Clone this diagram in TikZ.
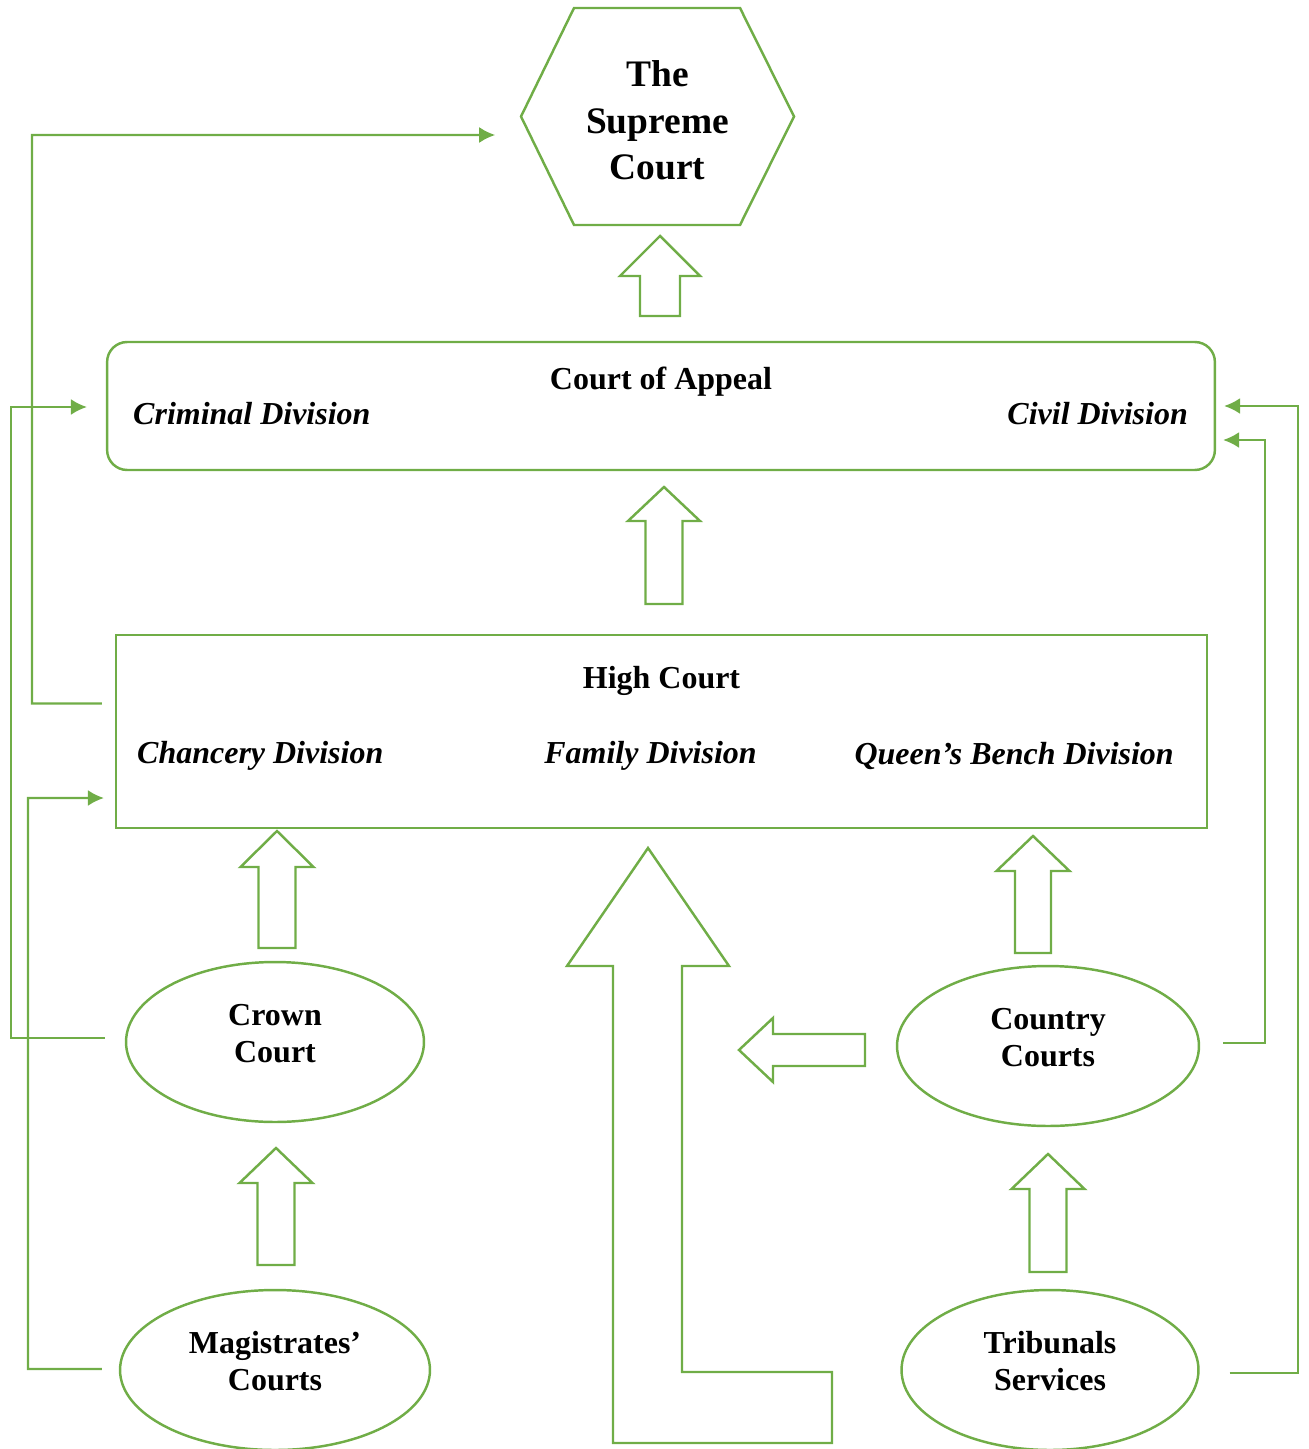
\documentclass[tikz,border=0pt]{standalone}
\usepackage{fontspec}
\setmainfont{Liberation Serif}
\usetikzlibrary{shapes.geometric, arrows.meta, calc, positioning}
\definecolor{courtgreen}{HTML}{70AD47}
\tikzset{
every node/.style={font=\fontsize{18.2}{21}\selectfont\bfseries, align=center}, % bold Times-like text everywhere
court/.style={draw=courtgreen, line width=1.4pt}, % outline of every court
courtoval/.style={court, ellipse, minimum width=5.96cm, minimum height=3.2cm, text depth=0.36cm},
division/.style={font=\fontsize{18.2}{21}\selectfont\bfseries\itshape, inner sep=0pt},
blockarrow/.style={draw=courtgreen, line width=1.4pt, line join=miter}, % hollow arrows
link/.style={draw=courtgreen, line width=1.2pt, -{Latex[length=0.32cm, width=0.32cm]}}, % thin appeal routes
}
% hollow upward arrow: x, tip y, head base y, bottom y, half head width, half shaft width
\newcommand{\upblock}[6]{\draw[blockarrow] (#1,#2) -- (#1+#5,#3) -- (#1+#6,#3) -- (#1+#6,#4) -- (#1-#6,#4) -- (#1-#6,#3) -- (#1-#5,#3) -- cycle;}

\begin{document}
\begin{tikzpicture}[x=0.02cm, y=-0.02cm]
    \useasboundingbox (0,0) rectangle (1308,1449);
    % the courts
    \node[minimum width=3.32cm, minimum height=4.34cm, font=\fontsize{21.3}{26.6}\selectfont\bfseries] (supreme) at (657.5,120.5) {The\\Supreme\\Court};
    \draw[court] (574,8) -- (740,8) -- (794,116.5) -- (740,225) -- (574,225) -- (521,116.5) -- cycle;

    \node[court, rounded corners=0.4cm, minimum width=22.16cm, minimum height=2.56cm] (appeal) at (661,406) {};
    \node (appealtitle) at ($(appeal.north)+(0,41)$) {Court of Appeal};
    \node[division, anchor=west] (criminal) at ($(appeal.west)+(27,8)$) {Criminal Division};
    \node[division, anchor=east] (civil) at ($(appeal.east)+(-28,8)$) {Civil Division};

    \node[court, minimum width=21.82cm, minimum height=3.86cm] (high) at (661.5,731.5) {};
    \node (hightitle) at ($(high.north)+(0,47)$) {High Court};
    \node[division, anchor=west] (chancery) at ($(high.west)+(22,24)$) {Chancery Division};
    \node[division] (family) at ($(high.center)+(-11,24)$) {Family Division};
    \node[division, anchor=east] (queens) at ($(high.east)+(-34,24)$) {Queen’s Bench Division};

    \node[courtoval] (crown) at (275,1042) {Crown\\Court};
    \node[courtoval, minimum width=6.2cm] (magistrates) at (275,1370) {Magistrates’\\Courts};
    \node[courtoval, minimum width=6.04cm] (country) at (1048,1046) {Country\\Courts};
    \node[courtoval, minimum width=5.94cm] (tribunals) at (1050,1370) {Tribunals\\Services};

    % hollow arrows
    \upblock{660}{236}{276}{316}{40}{20}
    \upblock{664}{487}{521}{604}{36}{18.5}
    \upblock{277}{831}{867}{948}{36.5}{18.5}
    \upblock{276}{1148}{1183}{1265}{36.5}{18.5}
    \upblock{1033}{836}{871}{953}{36.5}{18}
    \upblock{1048}{1154}{1189}{1272}{36.5}{18.5}
    \draw[blockarrow] (648,848) -- (729,966) -- (682,966) -- (682,1372) -- (832,1372) -- (832,1443) -- (613,1443) -- (613,966) -- (567,966) -- cycle;
    \draw[blockarrow] (739,1050) -- (773,1018) -- (773,1034) -- (865,1034) -- (865,1066) -- (773,1066) -- (773,1082) -- cycle;

    % appeal routes
    \draw[link] ($(high.west)+(-13,-28)$) -| (32,135) -- ($(supreme.west)+(-79,14.5)$);
    \draw[link] ($(crown.west)+(-20,-4)$) -| (11,407) -- ($(appeal.west)+(-19,1)$);
    \draw[link] ($(magistrates.west)+(-17,-1)$) -| (28,798) -- ($(high.west)+(-11,66.5)$);
    \draw[link] ($(country.east)+(23,-3)$) -| (1265,440) -- ($(appeal.east)+(7,34)$);
    \draw[link] ($(tribunals.east)+(30,3)$) -| (1298,406) -- ($(appeal.east)+(8,0)$);
\end{tikzpicture}
\end{document}
